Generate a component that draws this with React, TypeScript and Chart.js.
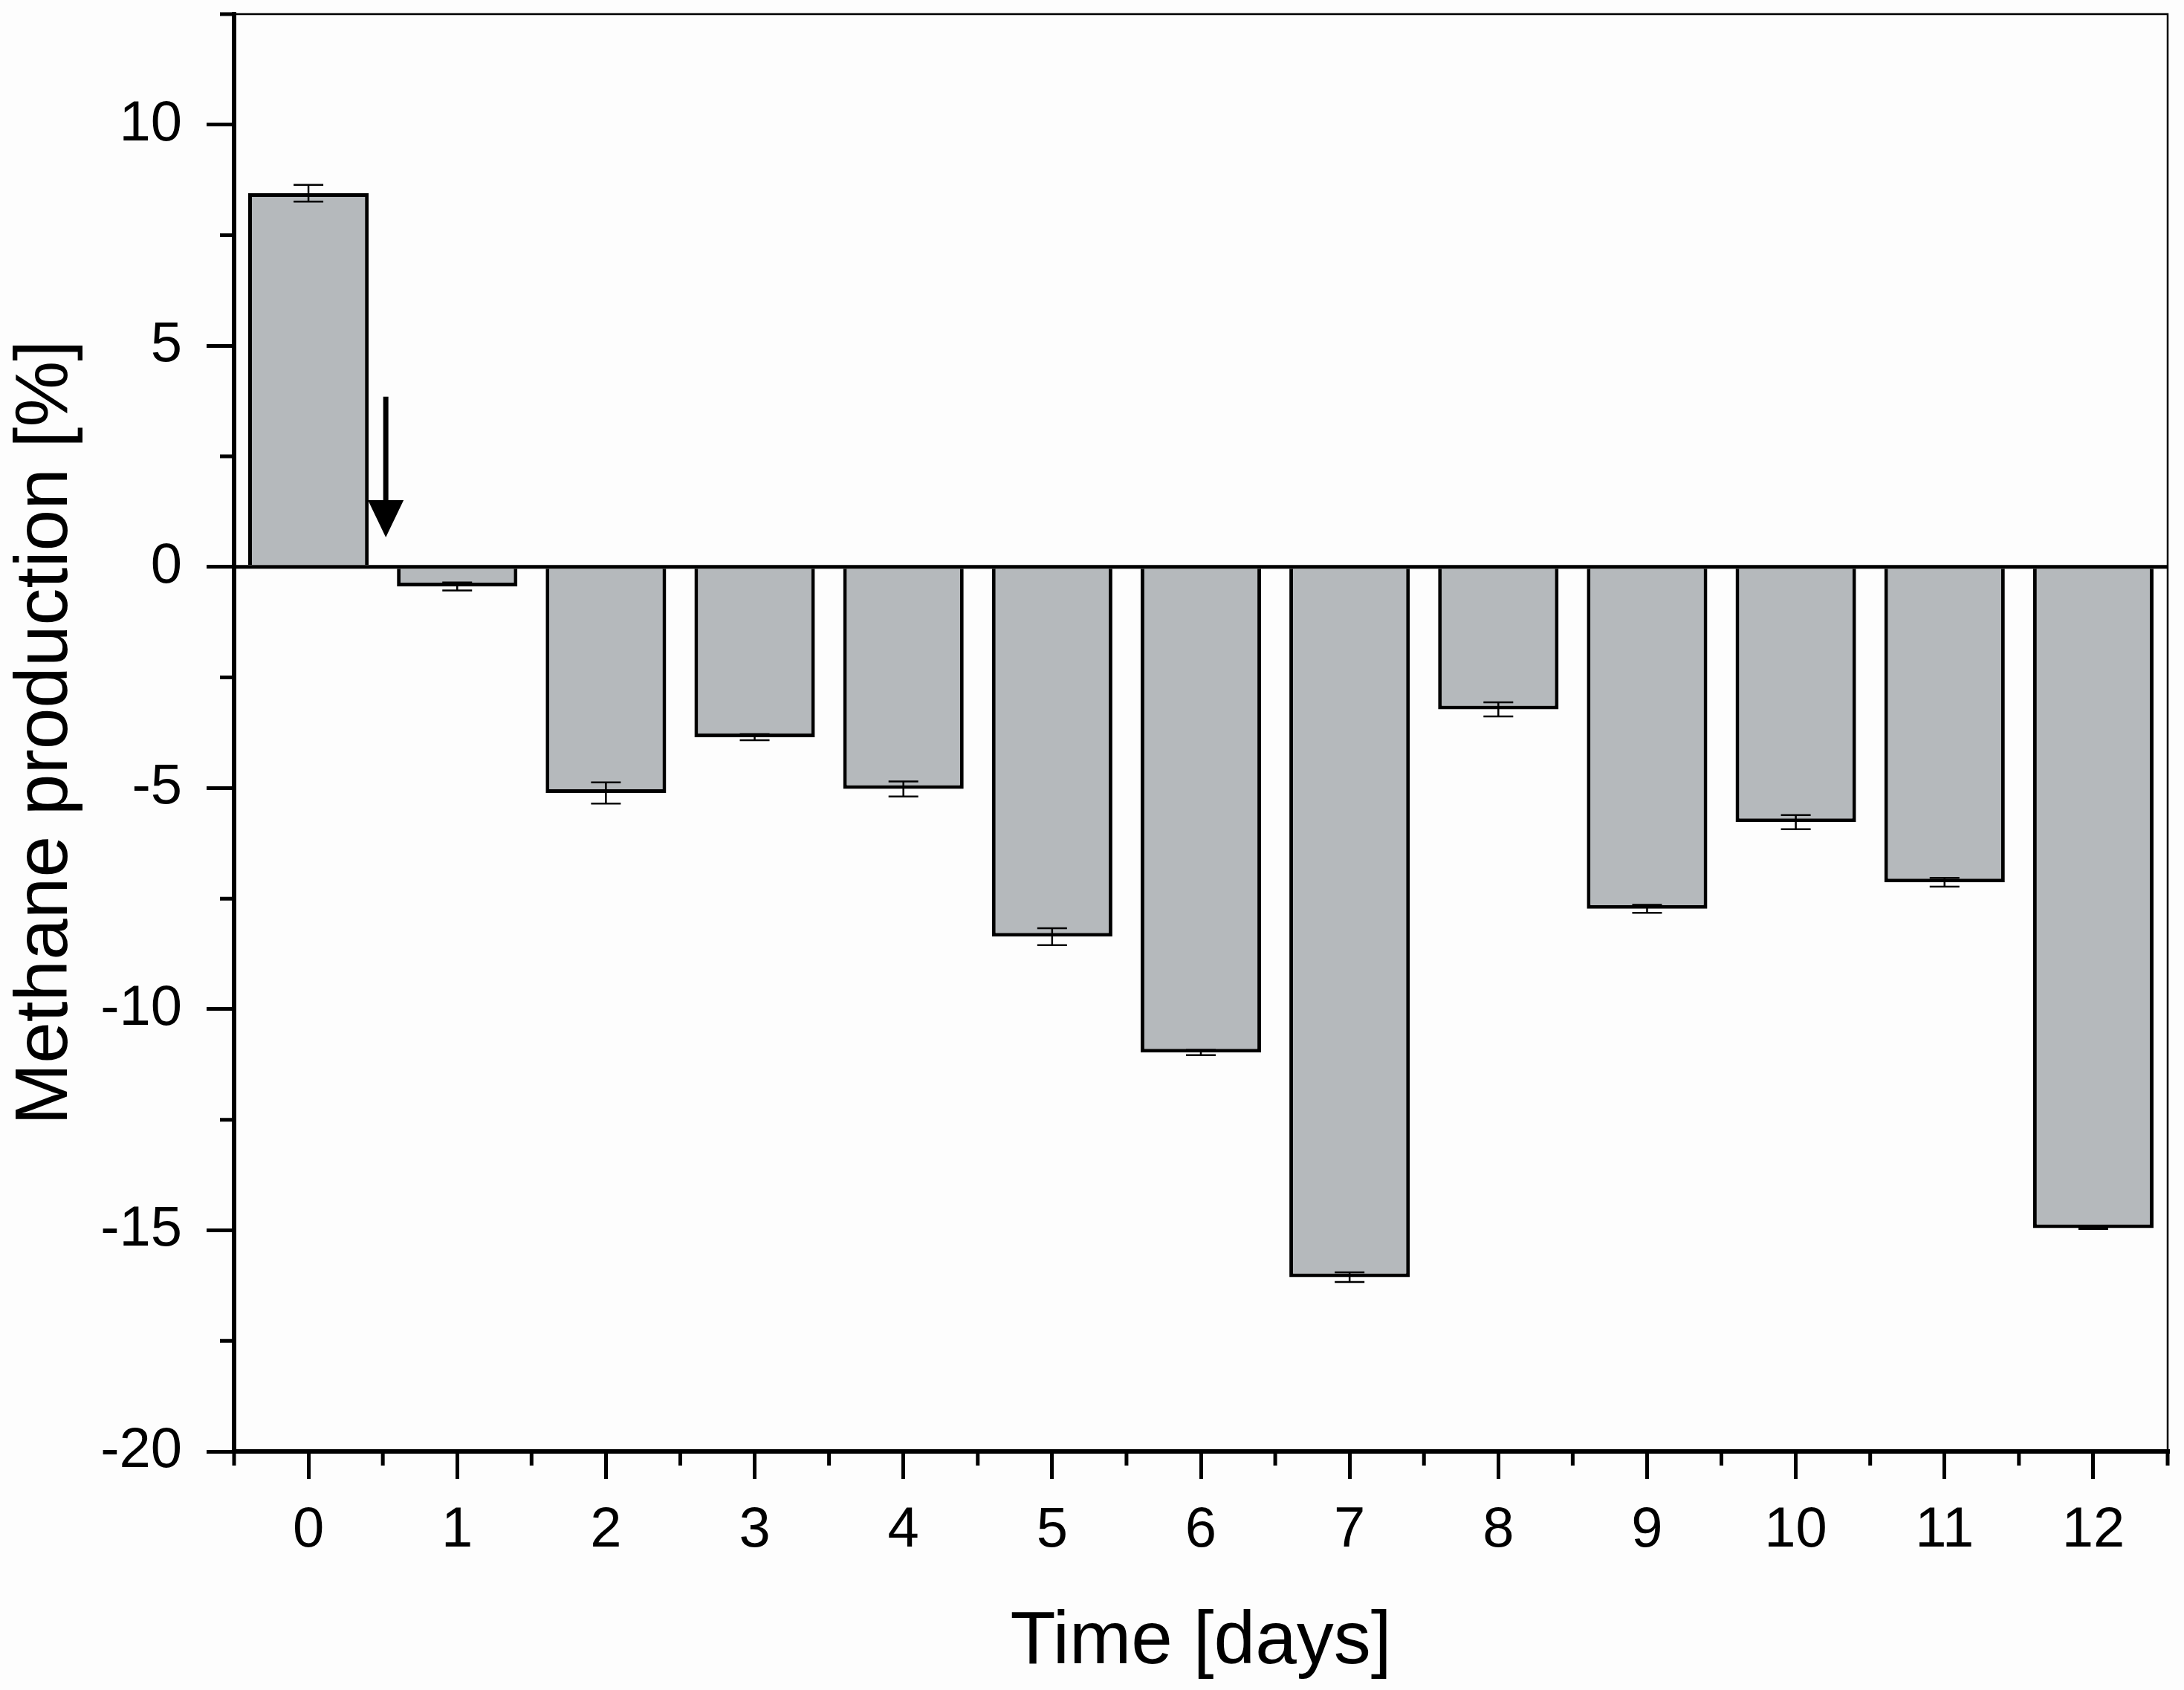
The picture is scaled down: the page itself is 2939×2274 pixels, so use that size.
import React, { useEffect, useRef } from "react";
import { Chart, registerables } from "chart.js";

Chart.register(...registerables);

const days = ["0", "1", "2", "3", "4", "5", "6", "7", "8", "9", "10", "11", "12"];
const methane = [8.45, -0.44, -5.11, -3.85, -5.02, -8.36, -10.98, -16.06, -3.22, -7.73, -5.77, -7.13, -14.95];
const methaneErr = [0.19, 0.09, 0.24, 0.07, 0.17, 0.19, 0.06, 0.11, 0.16, 0.09, 0.16, 0.1, 0.02];
const yMin = -20;
const yMax = 12.5;
const yStep = 5;
// arrow marking the start of treatment, in data units
const arrowDay = 0.52;
const arrowFrom = 3.85;
const arrowTo = 0.67;

const FONT = "'Liberation Sans', Arial, sans-serif";

const framePlugin = {
  id: "frame",
  beforeDraw(chart: any) {
    const { ctx, width, height } = chart;
    ctx.save();
    ctx.fillStyle = "#fdfdfd";
    ctx.fillRect(0, 0, width, height);
    ctx.restore();
  },
  afterDatasetsDraw(chart: any) {
    const { ctx, chartArea } = chart;
    const x = chart.scales.x;
    const y = chart.scales.y;
    ctx.save();
    ctx.strokeStyle = "#000";

    // error bars
    const meta = chart.getDatasetMeta(0);
    ctx.lineWidth = 2.5;
    meta.data.forEach((bar: any, i: number) => {
      const v = methane[i];
      const e = methaneErr[i];
      const y1 = y.getPixelForValue(v + e);
      const y2 = y.getPixelForValue(v - e);
      ctx.beginPath();
      ctx.moveTo(bar.x, y1);
      ctx.lineTo(bar.x, y2);
      ctx.moveTo(bar.x - 20, y1);
      ctx.lineTo(bar.x + 20, y1);
      ctx.moveTo(bar.x - 20, y2);
      ctx.lineTo(bar.x + 20, y2);
      ctx.stroke();
    });

    // zero line
    const y0 = y.getPixelForValue(0);
    ctx.lineWidth = 5;
    ctx.beginPath();
    ctx.moveTo(chartArea.left, y0);
    ctx.lineTo(chartArea.right, y0);
    ctx.stroke();

    // top and right frame
    ctx.lineWidth = 2.5;
    ctx.beginPath();
    ctx.moveTo(chartArea.left, chartArea.top);
    ctx.lineTo(chartArea.right, chartArea.top);
    ctx.lineTo(chartArea.right, chartArea.bottom);
    ctx.stroke();

    // minor ticks
    ctx.lineWidth = 5;
    ctx.beginPath();
    for (let v = yMin + yStep / 2; v <= yMax; v += yStep) {
      const p = y.getPixelForValue(v);
      ctx.moveTo(chartArea.left, p);
      ctx.lineTo(chartArea.left - 19, p);
    }
    const step = x.getPixelForValue(1) - x.getPixelForValue(0);
    for (let i = 0; i <= days.length; i++) {
      const p = x.getPixelForValue(i) - step / 2;
      ctx.moveTo(p, chartArea.bottom);
      ctx.lineTo(p, chartArea.bottom + 19);
    }
    ctx.stroke();

    // arrow
    const ax = x.getPixelForValue(0) + arrowDay * step;
    const aTop = y.getPixelForValue(arrowFrom);
    const aTip = y.getPixelForValue(arrowTo);
    const head = 50;
    ctx.lineWidth = 7;
    ctx.beginPath();
    ctx.moveTo(ax, aTop);
    ctx.lineTo(ax, aTip - head + 2);
    ctx.stroke();
    ctx.fillStyle = "#000";
    ctx.beginPath();
    ctx.moveTo(ax - 24, aTip - head);
    ctx.lineTo(ax + 24, aTip - head);
    ctx.lineTo(ax, aTip);
    ctx.closePath();
    ctx.fill();
    ctx.restore();
  },
};

const MethaneChart: React.FC = () => {
  const canvasRef = useRef<HTMLCanvasElement | null>(null);

  useEffect(() => {
    document.body.style.margin = "0";
    if (!canvasRef.current) return;
    const ctx = canvasRef.current.getContext("2d");
    if (!ctx) return;

    const chart = new Chart(ctx, {
      type: "bar",
      data: {
        labels: days,
        datasets: [
          {
            data: methane,
            backgroundColor: "#b5b9bc",
            borderColor: "#000",
            borderWidth: 5,
            borderSkipped: "start",
            barPercentage: 0.81,
            categoryPercentage: 1,
          },
        ],
      },
      options: {
        animation: false,
        responsive: false,
        devicePixelRatio: 1,
        layout: { padding: { top: 19, right: 22, left: 0, bottom: 0 } },
        plugins: {
          legend: { display: false },
          tooltip: { enabled: false },
        },
        scales: {
          x: {
            offset: true,
            grid: {
              display: true,
              offset: false,
              drawOnChartArea: false,
              drawTicks: true,
              tickLength: 37,
              lineWidth: 5,
              color: "#000",
            },
            border: { display: true, width: 6, color: "#000" },
            ticks: {
              color: "#000",
              font: { family: FONT, size: 76 },
              padding: 24,
              maxRotation: 0,
            },
            title: {
              display: true,
              text: "Time [days]",
              color: "#000",
              font: { family: FONT, size: 100, lineHeight: 1 },
              padding: { top: 0, bottom: 14 },
            },
            afterFit(scale: any) {
              scale.height = 321;
              scale.paddingLeft = 0;
              scale.paddingRight = 0;
            },
          },
          y: {
            min: yMin,
            max: yMax,
            grid: {
              display: true,
              drawOnChartArea: false,
              drawTicks: true,
              tickLength: 37,
              lineWidth: 5,
              color: "#000",
            },
            border: { display: true, width: 6, color: "#000" },
            ticks: {
              stepSize: yStep,
              includeBounds: false,
              color: "#000",
              font: { family: FONT, size: 76 },
              padding: 33,
            },
            title: {
              display: true,
              text: "Methane production [%]",
              color: "#000",
              font: { family: FONT, size: 100, lineHeight: 1 },
              padding: { top: 12, bottom: 0 },
            },
            afterFit(scale: any) {
              scale.width = 315;
              scale.paddingTop = 0;
              scale.paddingBottom = 0;
            },
          },
        },
      },
      plugins: [framePlugin],
    });

    return () => {
      chart.destroy();
    };
  }, []);

  return <canvas ref={canvasRef} width={2939} height={2274} style={{ display: "block" }}></canvas>;
};

export default function App() {
  return <MethaneChart />;
}
